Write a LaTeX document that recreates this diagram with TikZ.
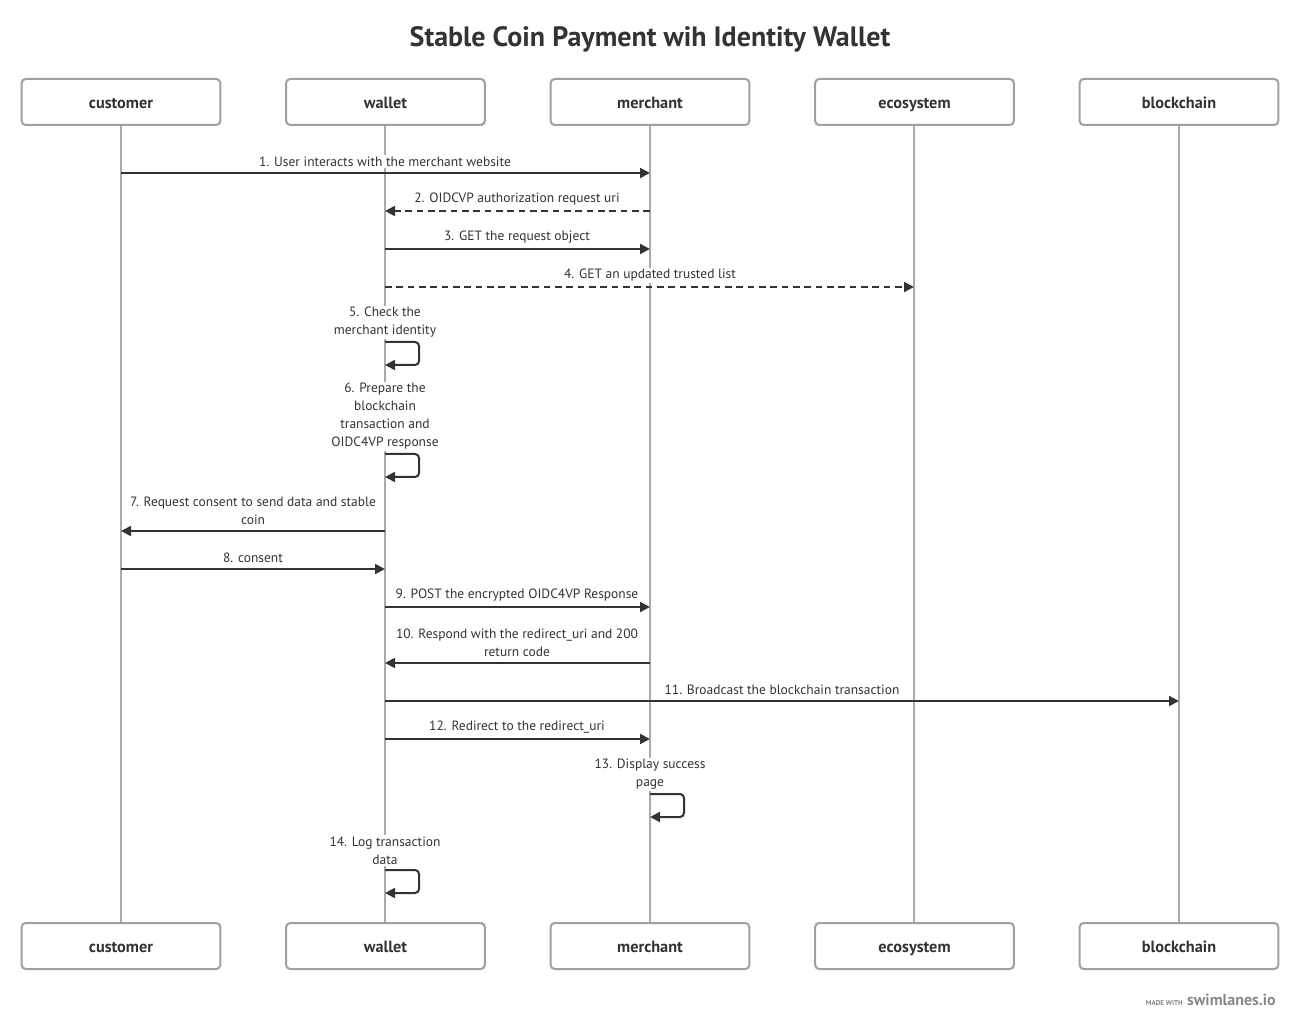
\documentclass[tikz,border=0pt]{standalone}
\usepackage{fontspec}
\setmainfont{PT Sans}
\usetikzlibrary{arrows.meta}
\definecolor{ink}{HTML}{333333}
\definecolor{life}{HTML}{AAAAAA}
\definecolor{boxline}{HTML}{A0A0A0}
\definecolor{foot}{HTML}{888888}
\tikzset{
  actor/.style={draw=boxline, line width=1.5pt, rounded corners=3pt, minimum width=149pt, minimum height=34.5pt, inner sep=0pt, text=ink, font=\fontsize{12.2}{13}\selectfont\bfseries, fill=white, text height=2.3ex, text depth=0.35ex},
  lifeline/.style={draw=life, line width=1.5pt},
  msg/.style={draw=ink, line width=1.5pt, -{Triangle[length=7.5pt,width=7.5pt]}},
  dmsg/.style={msg, dash pattern=on 5pt off 3.5pt},
  lbl/.style={fill=white, inner sep=1pt, text=ink, font=\fontsize{10.1}{13.5}\selectfont, align=center},
  loop/.style={draw=ink, line width=1.5pt, rounded corners=3pt, -{Triangle[length=7.5pt,width=7.5pt]}},
}
\begin{document}
\begin{tikzpicture}[x=0.75pt,y=-0.75pt]
\useasboundingbox (0,0) rectangle (1300,1030);
\node[text=ink, font=\fontsize{21}{24}\selectfont\bfseries] (title) at (650,39) {Stable Coin Payment wih Identity Wallet};
% lifelines first
\foreach \n/\x in {customer/121,wallet/385,merchant/650,ecosystem/914,blockchain/1179}{
  \coordinate (\n top) at (\x,125);
  \coordinate (\n bot) at (\x,923);
  \draw[lifeline] (\n top) -- (\n bot);
}
\foreach \n/\x in {customer/121,wallet/385.5,merchant/650,ecosystem/914.5,blockchain/1179}{
  \node[actor] (\n A) at (\x,102) {\n};
  \node[actor] (\n B) at (\x,946) {\n};
}
% endpoints
\foreach \n/\x in {C/121,W/385,M/650,E/914,B/1179}{
  \foreach \y in {173,211,249,287,531,569,607,663,701,739}{
    \coordinate (\n\y) at (\x,\y);
  }
}
% 1
\draw[msg] (C173) -- (M173);
\node[lbl] (l1) at (385,161.5) {1. User interacts with the merchant website};
% 2
\draw[dmsg] (M211) -- (W211);
\node[lbl] (l2) at (517,199.5) {2. OIDCVP authorization request uri};
% 3
\draw[msg] (W249) -- (M249);
\node[lbl] (l3) at (517,237.5) {3. GET the request object};
% 4
\draw[dmsg] (W287) -- (E287);
\node[lbl] (l4) at (650,275.5) {4. GET an updated trusted list};
% 5
\node[lbl] (l5) at (385,322.5) {5. Check the\\merchant identity};
\coordinate (s5a) at (385,342);
\coordinate (s5b) at (385,365);
\draw[loop] (s5a) -- (419,342) -- (419,365) -- (s5b);
% 6
\node[lbl] (l6) at (385,416.5) {6. Prepare the\\blockchain\\transaction and\\OIDC4VP response};
\coordinate (s6a) at (385,454);
\coordinate (s6b) at (385,477);
\draw[loop] (s6a) -- (419,454) -- (419,477) -- (s6b);
% 7
\draw[msg] (W531) -- (C531);
\node[lbl] (l7) at (253,510.5) {7. Request consent to send data and stable\\coin};
% 8
\draw[msg] (C569) -- (W569);
\node[lbl] (l8) at (253,557.5) {8. consent};
% 9
\draw[msg] (W607) -- (M607);
\node[lbl] (l9) at (517,595.5) {9. POST the encrypted OIDC4VP Response};
% 10
\draw[msg] (M663) -- (W663);
\node[lbl] (l10) at (517,642.5) {10. Respond with the redirect\_uri and 200\\return code};
% 11
\draw[msg] (W701) -- (B701);
\node[lbl] (l11) at (782,689.5) {11. Broadcast the blockchain transaction};
% 12
\draw[msg] (W739) -- (M739);
\node[lbl] (l12) at (517,727.5) {12. Redirect to the redirect\_uri};
% 13
\node[lbl] (l13) at (650,774.5) {13. Display success\\page};
\coordinate (s13a) at (650,794);
\coordinate (s13b) at (650,817);
\draw[loop] (s13a) -- (684,794) -- (684,817) -- (s13b);
% 14
\node[lbl] (l14) at (385,850.5) {14. Log transaction\\data};
\coordinate (s14a) at (385,870);
\coordinate (s14b) at (385,893);
\draw[loop] (s14a) -- (419,870) -- (419,893) -- (s14b);
% footer
\node[anchor=east, text=foot, font=\fontsize{12}{13}\selectfont\bfseries, inner sep=0pt] (sw) at (1276,1000) {swimlanes.io};
\node[anchor=east, text=foot, font=\fontsize{5.3}{6}\selectfont\bfseries, inner sep=0pt] (mw) at ([xshift=-3pt,yshift=-2.2pt]sw.west) {MADE WITH};
\end{tikzpicture}
\end{document}
